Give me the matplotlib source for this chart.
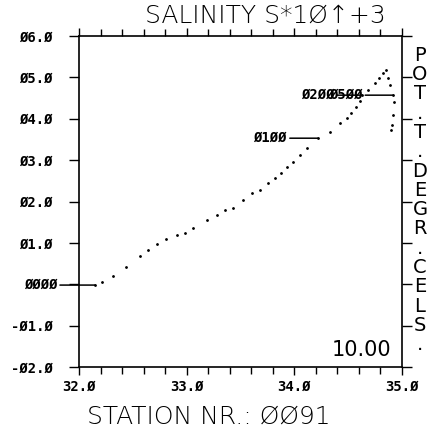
import matplotlib
matplotlib.use("Agg")
from matplotlib import pyplot as plt
from matplotlib.ticker import MultipleLocator

# T-S curve
salinity = [32.15, 32.21, 32.32, 32.44, 32.57, 32.64, 32.72, 32.81, 32.91, 32.98,
            33.06, 33.19, 33.28, 33.36, 33.43, 33.52, 33.61, 33.68, 33.76, 33.82,
            33.88, 33.93, 33.99, 34.05, 34.12, 34.22, 34.33, 34.42, 34.49, 34.53,
            34.57, 34.61, 34.63, 34.68, 34.75, 34.79, 34.82, 34.85, 34.87, 34.89,
            34.92, 34.93, 34.92, 34.91, 34.90]
temperature = [-0.02, 0.05, 0.19, 0.41, 0.68, 0.82, 0.97, 1.09, 1.18, 1.23,
               1.35, 1.55, 1.67, 1.79, 1.84, 2.03, 2.20, 2.27, 2.44, 2.58,
               2.70, 2.83, 2.95, 3.12, 3.29, 3.53, 3.67, 3.89, 4.03, 4.15,
               4.28, 4.42, 4.57, 4.69, 4.86, 4.98, 5.10, 5.17, 4.98, 4.81,
               4.57, 4.40, 4.08, 3.85, 3.72]

depth_labels = ['ØØØØ', 'Ø1ØØ', 'Ø2ØØ', 'Ø5ØØ']
depth_index = [0, 25, 32, 40]
depth_offset = [-38, -31, -28, -31]

x_ticks = [32.0, 33.0, 34.0, 35.0]
x_ticklabels = ['32.Ø', '33.Ø', '34.Ø', '35.Ø']
y_ticks = [-2, -1, 0, 1, 2, 3, 4, 5, 6]
y_ticklabels = ['-Ø2.Ø', '-Ø1.Ø', '', 'Ø1.Ø', 'Ø2.Ø', 'Ø3.Ø', 'Ø4.Ø', 'Ø5.Ø', 'Ø6.Ø']

title = 'SALINITY S*1Ø↑+3'
right_label = 'POT.T.DEGR.CELS.'
station = 'STATION NR.: ØØ91'
scale_text = '10.00'

fig = plt.figure(figsize=(4.3, 4.36), dpi=100)
ax = fig.add_axes([79 / 430, 1 - 367 / 436, 323 / 430, 331 / 436])

ax.plot(salinity, temperature, linestyle='none', marker='.', markersize=2,
        color='black')

for lab, i, off in zip(depth_labels, depth_index, depth_offset):
    ax.annotate(lab, xy=(salinity[i], temperature[i]), xytext=(off, 0),
                textcoords='offset pixels', ha='right', va='center',
                family='DejaVu Sans Mono', fontweight='bold', fontsize=10,
                arrowprops=dict(arrowstyle='-', lw=1.1, color='black',
                                shrinkA=0, shrinkB=0),
                annotation_clip=False)

ax.set_xlim(32.0, 35.0)
ax.set_ylim(-2.0, 6.0)
ax.set_xticks(x_ticks)
ax.set_xticklabels(x_ticklabels, family='DejaVu Sans Mono', fontweight='bold',
                   fontsize=10)
ax.xaxis.set_minor_locator(MultipleLocator(0.2))
ax.set_yticks(y_ticks)
ax.set_yticklabels(y_ticklabels, family='DejaVu Sans Mono', fontweight='bold',
                   fontsize=10)

ax.tick_params(axis='x', which='both', direction='out', top=True, width=1,
               pad=3)
ax.tick_params(axis='x', which='major', length=6)
ax.tick_params(axis='x', which='minor', length=5)
ax.tick_params(axis='y', direction='out', right=True, length=7, width=1,
               pad=12)
for s in ax.spines.values():
    s.set_linewidth(1.2)

ax.text(0.875, 0.05, scale_text, transform=ax.transAxes, ha='center',
        va='center', family='Liberation Sans Narrow', fontsize=15)

fig.text(265 / 430, 1 - 16 / 436, title, ha='center', va='center',
         fontsize=18, family='DejaVu Sans', fontweight='light')
fig.text(209 / 430, 1 - 417 / 436, station, ha='center', va='center',
         fontsize=18, family='DejaVu Sans', fontweight='light')
fig.text(420 / 430, 1 - 200 / 436, '\n'.join(right_label), ha='center',
         va='center', fontsize=14, family='Liberation Sans Narrow',
         linespacing=1.02)

fig.savefig('out.png', dpi=100)
